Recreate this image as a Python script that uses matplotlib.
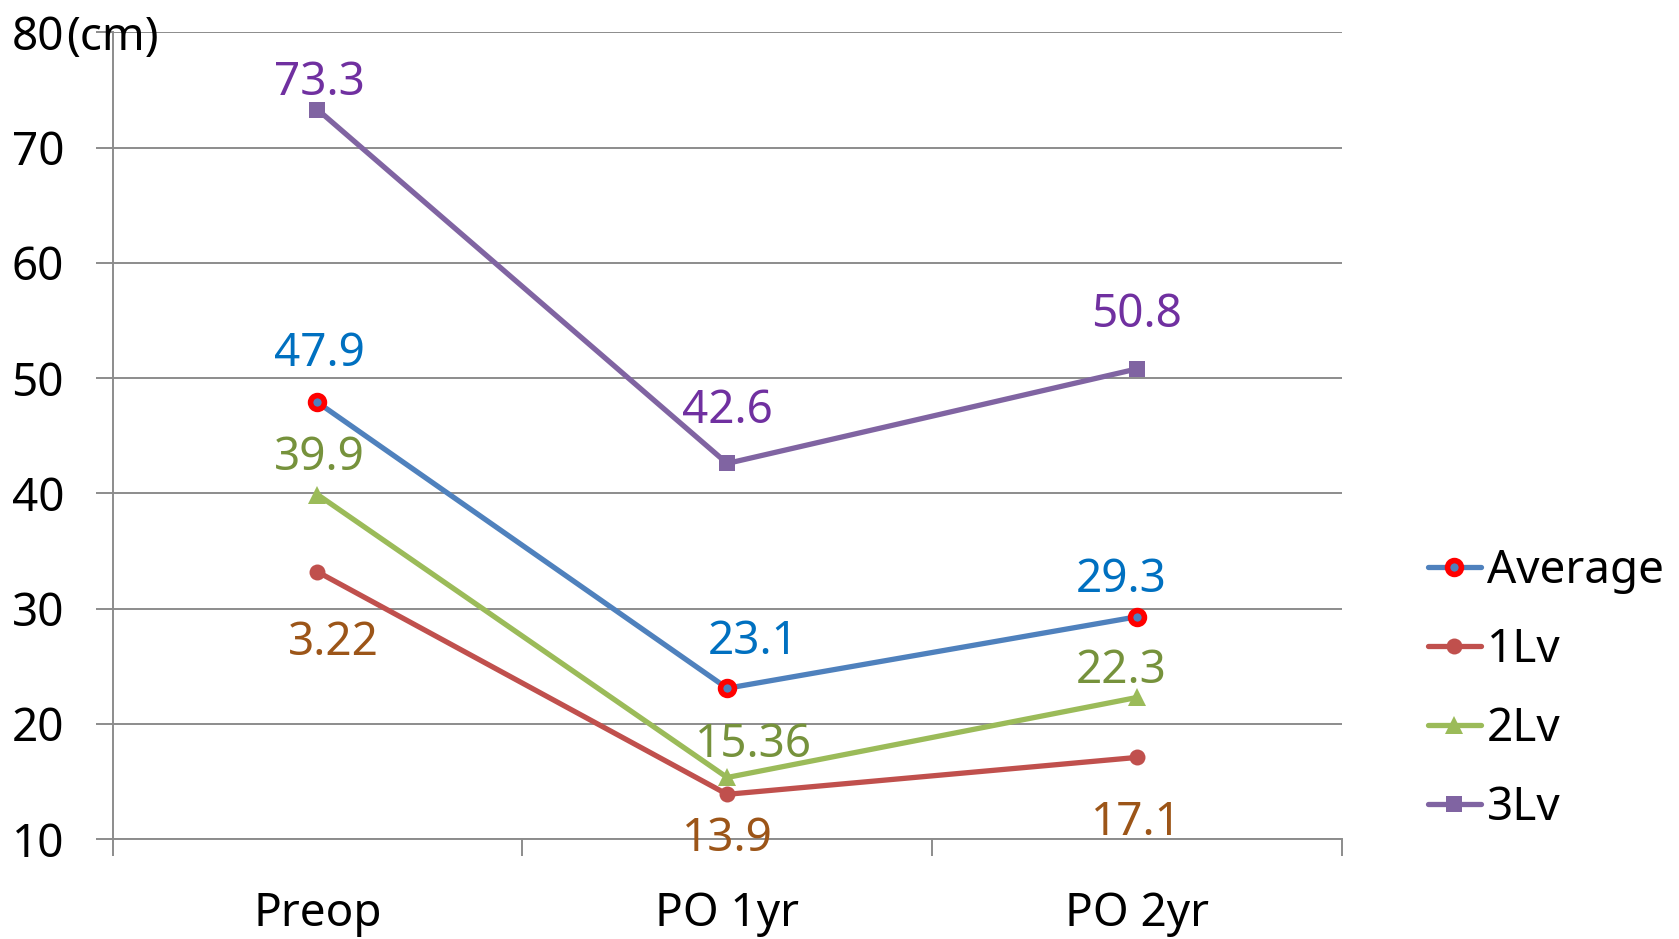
import matplotlib.pyplot as plt

plt.rcParams["font.family"] = ["Noto Sans", "DejaVu Sans"]

categories = ["Preop", "PO 1yr", "PO 2yr"]

avg_vals = [47.9, 23.1, 29.3]
lv1_vals = [33.2, 13.9, 17.1]
lv2_vals = [39.9, 15.36, 22.3]
lv3_vals = [73.3, 42.6, 50.8]

avg_labels = ["47.9", "23.1", "29.3"]
lv1_labels = ["3.22", "13.9", "17.1"]
lv2_labels = ["39.9", "15.36", "22.3"]
lv3_labels = ["73.3", "42.6", "50.8"]

y_ticks = [10, 20, 30, 40, 50, 60, 70, 80]

# (name, values, labels, line color, label color, marker kwargs, label offsets in pt)
series = [
    ("Average", avg_vals, avg_labels, "#4F81BD", "#0070C0",
     dict(marker="o", ms=10, mfc="#4F81BD", mec="#FF0000", mew=4),
     [(1.5, 34.5), (19, 33), (-11, 26.5)]),
    ("1Lv", lv1_vals, lv1_labels, "#C0504D", "#9C5518",
     dict(marker="o", ms=11.5, mfc="#C0504D", mec="#C0504D", mew=0),
     [(11.5, -51), (0, -32.5), (0, -47)]),
    ("2Lv", lv2_vals, lv2_labels, "#9BBB59", "#76923C",
     dict(marker="^", ms=12.5, mfc="#9BBB59", mec="#9BBB59", mew=0),
     [(1.5, 26), (19, 23.5), (-11, 19)]),
    ("3Lv", lv3_vals, lv3_labels, "#8064A2", "#7030A0",
     dict(marker="s", ms=11, mfc="#8064A2", mec="#8064A2", mew=0),
     [(1.5, 19.3), (0, 37.5), (0, 38.5)]),
]

FS = 33
GRID = "#8C8C8C"

fig = plt.figure(figsize=(16.79, 9.39), dpi=100)
ax = fig.add_axes([0.0671, 0.1062, 0.732, 0.8594])

x = list(range(len(categories)))
for name, vals, labels, color, lcolor, mk, offs in series:
    ax.plot(x, vals, color=color, lw=3.8, label=name, solid_capstyle="round", **mk, zorder=3)
    for xi, v, txt, off in zip(x, vals, labels, offs):
        ax.annotate(txt, xy=(xi, v), xytext=off, textcoords="offset points",
                    ha="center", va="center", fontsize=FS, color=lcolor, zorder=4)

ax.set_xlim(-0.5, 2.5)
ax.set_ylim(10, 80)
ax.set_yticks(y_ticks)
ax.yaxis.grid(True, color=GRID, lw=1.4)
ax.set_axisbelow(True)
ax.tick_params(axis="y", length=12, width=1.4, color=GRID, labelsize=FS, pad=23)

ax.set_xticks([-0.5, 0.5, 1.5, 2.5])
ax.set_xticklabels([])
ax.set_xticks(x, minor=True)
ax.set_xticklabels(categories, minor=True)
ax.tick_params(axis="x", which="major", length=12, width=1.4, color=GRID, direction="out")
ax.tick_params(axis="x", which="minor", length=0, labelsize=FS, pad=37.5)

for side in ["top", "right"]:
    ax.spines[side].set_visible(False)
for side in ["left", "bottom"]:
    ax.spines[side].set_color(GRID)
    ax.spines[side].set_linewidth(1.4)

ax.text(-0.0377, 80, "(cm)", transform=ax.get_yaxis_transform(),
        ha="left", va="center_baseline", fontsize=FS, clip_on=False)

fig.legend(loc="center left", bbox_to_anchor=(0.8505, 0.266), frameon=False,
           fontsize=FS, handlelength=1.15, handletextpad=0.13, labelspacing=0.72,
           borderpad=0, borderaxespad=0)

fig.savefig("out.png", dpi=100)
